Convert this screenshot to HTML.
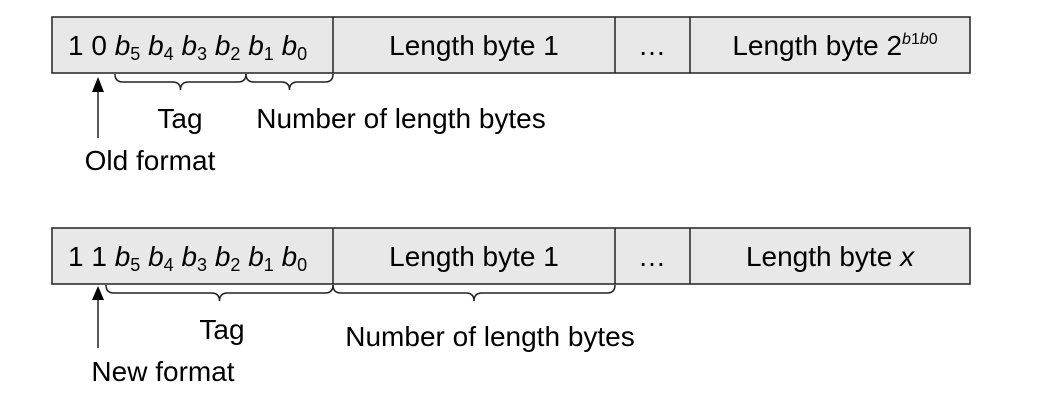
<!DOCTYPE html>
<html><head><style>body{margin:0;background:#fff}svg{display:block}</style></head><body>
<svg width="1060" height="412" xmlns="http://www.w3.org/2000/svg" font-family="Liberation Sans, sans-serif" font-size="28" fill="#000">
<g stroke="#222" stroke-width="1.5" fill="#e8e8e8">
<rect x="52" y="17" width="918" height="56"/>
<rect x="52" y="228" width="918" height="56"/>
</g>
<g stroke="#222" stroke-width="1.5">
<line x1="333" y1="17" x2="333" y2="73"/><line x1="615" y1="17" x2="615" y2="73"/><line x1="690" y1="17" x2="690" y2="73"/>
<line x1="333" y1="228" x2="333" y2="284"/><line x1="615" y1="228" x2="615" y2="284"/><line x1="690" y1="228" x2="690" y2="284"/>
</g>
<g fill="none" stroke="#222" stroke-width="1.5">
<path d="M115,74 q0,8 8,8 h49.5 q8,0 8,8 q0,-8 8,-8 h49.5 q8,0 8,-8"/>
<path d="M246,74 q0,8 8,8 h27.5 q8,0 8,8 q0,-8 8,-8 h27.5 q8,0 8,-8"/>
<path d="M106,285 q0,8 8,8 h97.5 q8,0 8,8 q0,-8 8,-8 h97.5 q8,0 8,-8"/>
<path d="M333,285 q0,8 8,8 h125 q8,0 8,8 q0,-8 8,-8 h125 q8,0 8,-8"/>
<line x1="98" y1="90" x2="98" y2="138"/>
<line x1="98" y1="298" x2="98" y2="348"/>
</g>
<polygon points="98,77 92,92 104,92" fill="#000"/>
<polygon points="98,286 92,300 104,300" fill="#000"/>
<text x="68" y="55">1 0 <tspan font-style="italic">b</tspan><tspan font-size="18" dy="5">5</tspan><tspan dy="-5"> </tspan><tspan font-style="italic">b</tspan><tspan font-size="18" dy="5">4</tspan><tspan dy="-5"> </tspan><tspan font-style="italic">b</tspan><tspan font-size="18" dy="5">3</tspan><tspan dy="-5"> </tspan><tspan font-style="italic">b</tspan><tspan font-size="18" dy="5">2</tspan><tspan dy="-5"> </tspan><tspan font-style="italic">b</tspan><tspan font-size="18" dy="5">1</tspan><tspan dy="-5"> </tspan><tspan font-style="italic">b</tspan><tspan font-size="18" dy="5">0</tspan></text>
<text x="68" y="266">1 1 <tspan font-style="italic">b</tspan><tspan font-size="18" dy="5">5</tspan><tspan dy="-5"> </tspan><tspan font-style="italic">b</tspan><tspan font-size="18" dy="5">4</tspan><tspan dy="-5"> </tspan><tspan font-style="italic">b</tspan><tspan font-size="18" dy="5">3</tspan><tspan dy="-5"> </tspan><tspan font-style="italic">b</tspan><tspan font-size="18" dy="5">2</tspan><tspan dy="-5"> </tspan><tspan font-style="italic">b</tspan><tspan font-size="18" dy="5">1</tspan><tspan dy="-5"> </tspan><tspan font-style="italic">b</tspan><tspan font-size="18" dy="5">0</tspan></text>
<g text-anchor="middle">
<text x="474" y="55">Length byte 1</text>
<text x="652" y="55">…</text>
<text x="835" y="55">Length byte 2<tspan font-size="16" dy="-11" font-style="italic">b</tspan><tspan font-size="16">1</tspan><tspan font-size="16" font-style="italic">b</tspan><tspan font-size="16">0</tspan></text>
<text x="474" y="266">Length byte 1</text>
<text x="652" y="266">…</text>
<text x="830" y="266">Length byte <tspan font-style="italic">x</tspan></text>
<text x="180" y="128">Tag</text>
<text x="401" y="128">Number of length bytes</text>
<text x="150" y="170">Old format</text>
<text x="222" y="339">Tag</text>
<text x="490" y="346">Number of length bytes</text>
<text x="163" y="381">New format</text>
</g>
</svg>
</body></html>
